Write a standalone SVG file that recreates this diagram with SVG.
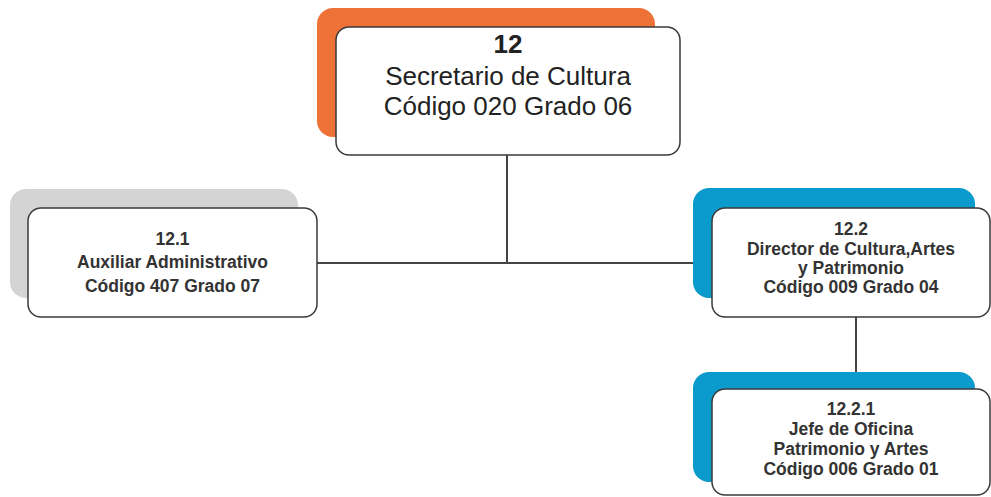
<svg xmlns="http://www.w3.org/2000/svg" width="991" height="497" viewBox="0 0 991 497">
<style>
.card{fill:#fff;stroke:#3a3a3a;stroke-width:1.5}
.big{font-family:"Liberation Sans",Arial,sans-serif;font-size:26px;fill:#222;text-anchor:middle}
.sm{font-family:"Liberation Sans",Arial,sans-serif;font-size:17.5px;font-weight:bold;fill:#333;text-anchor:middle}
.conn{stroke:#444;stroke-width:2;fill:none}
</style>
<rect width="991" height="497" fill="#fff"/>
<g id="connectors">
<line class="conn" x1="507" y1="155" x2="507" y2="263"/>
<line class="conn" x1="317" y1="263" x2="693" y2="263"/>
<line class="conn" x1="856" y1="317" x2="856" y2="372"/>
</g>
<g id="n12">
<rect x="317" y="8" width="338" height="129" rx="16" fill="#EE7238"/>
<rect class="card" x="336" y="27" width="344" height="128" rx="13"/>
<text class="big" x="508" y="53" font-weight="bold">12</text>
<text class="big" x="508" y="85">Secretario de Cultura</text>
<text class="big" x="508" y="115">Código 020 Grado 06</text>
</g>
<g id="n12_1">
<rect x="10" y="189" width="288" height="109" rx="16" fill="#D4D4D4"/>
<rect class="card" x="28" y="208" width="289" height="109" rx="13"/>
<text class="sm" x="172.5" y="245">12.1</text>
<text class="sm" x="172.5" y="268">Auxiliar Administrativo</text>
<text class="sm" x="172.5" y="292">Código 407 Grado 07</text>
</g>
<g id="n12_2">
<rect x="693" y="188" width="282" height="110" rx="16" fill="#0A9ACB"/>
<rect class="card" x="712" y="208" width="278" height="109" rx="13"/>
<text class="sm" x="851" y="235">12.2</text>
<text class="sm" x="851" y="255">Director de Cultura,Artes</text>
<text class="sm" x="851" y="274">y Patrimonio</text>
<text class="sm" x="851" y="293">Código 009 Grado 04</text>
</g>
<g id="n12_2_1">
<rect x="693" y="372" width="282" height="110" rx="16" fill="#0A9ACB"/>
<rect class="card" x="712" y="389" width="278" height="106" rx="13"/>
<text class="sm" x="851" y="415">12.2.1</text>
<text class="sm" x="851" y="435">Jefe de Oficina</text>
<text class="sm" x="851" y="455">Patrimonio y Artes</text>
<text class="sm" x="851" y="475">Código 006 Grado 01</text>
</g>
</svg>
